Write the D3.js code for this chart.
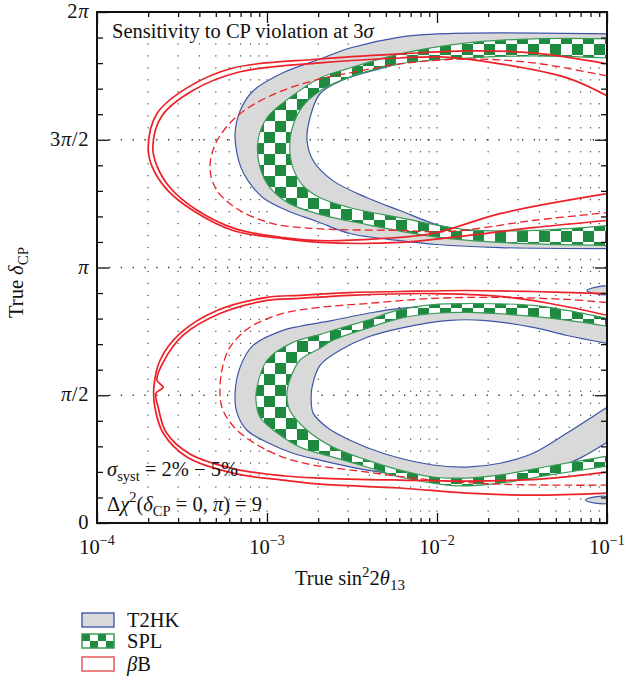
<!DOCTYPE html>
<html>
<head>
<meta charset="utf-8">
<script src="https://cdn.jsdelivr.net/npm/d3@7"></script>
<style>
  body { margin: 0; background: #fff; }
  svg text { font-family: "Liberation Serif", "Times New Roman", serif; font-size: 20.5px; fill: #111; }
</style>
</head>
<body>
<svg id="chart" width="626" height="680"></svg>
<script>
// Contours: each point is [true sin^2(2θ13), true δCP in units of π]

// T2HK (upper lobe, δ between π and 2π)
const t2hkUpperOuter = [[0.1,1.914],[0.0235,1.918],[0.0100,1.914],[0.00605,1.902],[0.00308,1.859],[0.00205,1.816],[0.00124,1.762],[0.000828,1.691],[0.000694,1.613],[0.000649,1.523],[0.000667,1.445],[0.000703,1.391],[0.000773,1.340],[0.000947,1.273],[0.00131,1.223],[0.00197,1.180],[0.00308,1.133],[0.00605,1.105],[0.0100,1.090],[0.0235,1.078],[0.1,1.074]];
const t2hkUpperInner = [[0.1,1.824],[0.0367,1.830],[0.0150,1.824],[0.00693,1.809],[0.00481,1.781],[0.00280,1.734],[0.00205,1.680],[0.00179,1.586],[0.00172,1.496],[0.00187,1.418],[0.00244,1.340],[0.00388,1.273],[0.00605,1.223],[0.0104,1.164],[0.0150,1.145],[0.0367,1.141],[0.1,1.160]];
// T2HK (lower lobe, δ between 0 and π)
const t2hkLowerOuter = [[0.1,0.793],[0.0367,0.844],[0.0150,0.852],[0.00605,0.840],[0.00388,0.820],[0.00244,0.793],[0.00156,0.770],[0.00124,0.754],[0.000828,0.695],[0.000694,0.609],[0.000649,0.508],[0.000667,0.430],[0.000762,0.363],[0.00100,0.316],[0.00142,0.273],[0.00205,0.246],[0.00388,0.207],[0.00947,0.176],[0.0235,0.176],[0.0463,0.207],[0.0694,0.254],[0.1,0.316]];
const t2hkLowerInner = [[0.1,0.703],[0.0582,0.734],[0.0367,0.766],[0.0187,0.793],[0.0119,0.793],[0.00605,0.762],[0.00388,0.727],[0.00269,0.676],[0.00205,0.617],[0.00184,0.531],[0.00182,0.480],[0.00187,0.430],[0.00225,0.375],[0.00308,0.324],[0.00481,0.273],[0.00947,0.227],[0.0150,0.219],[0.0235,0.234],[0.0367,0.273],[0.0582,0.352],[0.1,0.453]];
// small T2HK islands at large θ13
const t2hkIslandTop = [[0.1,0.926],[0.085,0.922],[0.0762,0.910],[0.085,0.898],[0.1,0.895]];
const t2hkIslandBottom = [[0.1,0.102],[0.085,0.102],[0.0748,0.090],[0.085,0.078],[0.1,0.078]];

// SPL
const splUpperOuter = [[0.1,1.895],[0.0367,1.895],[0.0150,1.879],[0.00605,1.836],[0.00308,1.781],[0.00205,1.742],[0.00136,1.664],[0.00100,1.586],[0.000885,1.496],[0.000910,1.391],[0.00104,1.313],[0.00136,1.250],[0.00197,1.211],[0.00388,1.168],[0.00947,1.121],[0.0235,1.098],[0.1,1.086]];
const splUpperInner = [[0.1,1.820],[0.0367,1.828],[0.0150,1.820],[0.00605,1.797],[0.00308,1.746],[0.00205,1.691],[0.00163,1.633],[0.00142,1.555],[0.00136,1.469],[0.00142,1.391],[0.00163,1.320],[0.00205,1.273],[0.00308,1.234],[0.00605,1.195],[0.0150,1.148],[0.0367,1.145],[0.1,1.164]];
const splLowerOuter = [[0.1,0.801],[0.0582,0.832],[0.0367,0.852],[0.0150,0.859],[0.00947,0.855],[0.00582,0.832],[0.00388,0.793],[0.00244,0.754],[0.00205,0.738],[0.00142,0.707],[0.00100,0.637],[0.000873,0.531],[0.000861,0.480],[0.000910,0.414],[0.00115,0.352],[0.00156,0.297],[0.00244,0.258],[0.00388,0.219],[0.00605,0.180],[0.00947,0.156],[0.0136,0.145],[0.0235,0.156],[0.0463,0.188],[0.1,0.223]];
const splLowerInner = [[0.1,0.770],[0.0722,0.785],[0.0367,0.809],[0.0150,0.824],[0.00947,0.820],[0.00605,0.801],[0.00388,0.762],[0.00244,0.715],[0.00205,0.684],[0.00156,0.637],[0.00136,0.559],[0.00131,0.508],[0.00136,0.441],[0.00172,0.363],[0.00244,0.297],[0.00388,0.246],[0.00605,0.207],[0.00947,0.180],[0.0150,0.176],[0.0235,0.188],[0.0463,0.223],[0.1,0.262]];

// βB: two solid contours and one dashed contour per lobe
const betaUpperA = [[0.1,1.797],[0.0367,1.840],[0.0150,1.848],[0.00605,1.836],[0.00205,1.816],[0.000631,1.781],[0.000338,1.703],[0.000225,1.602],[0.000200,1.469],[0.000211,1.395],[0.000258,1.305],[0.000367,1.223],[0.000631,1.145],[0.00124,1.113],[0.00205,1.098],[0.00605,1.098],[0.0150,1.125],[0.0367,1.156],[0.1,1.184]];
const betaUpperB = [[0.1,1.672],[0.0582,1.742],[0.0235,1.797],[0.0104,1.824],[0.00605,1.820],[0.00205,1.801],[0.000694,1.766],[0.000362,1.691],[0.000241,1.594],[0.000213,1.473],[0.000225,1.398],[0.000272,1.309],[0.000382,1.227],[0.000649,1.152],[0.00124,1.117],[0.00205,1.105],[0.00463,1.113],[0.00947,1.133],[0.0235,1.211],[0.1,1.289]];
const betaUpperDashed = [[0.1,1.750],[0.0367,1.801],[0.0150,1.816],[0.00605,1.797],[0.00308,1.762],[0.00205,1.738],[0.00115,1.684],[0.000694,1.602],[0.000508,1.496],[0.000462,1.391],[0.000508,1.301],[0.000694,1.223],[0.00108,1.172],[0.00197,1.152],[0.00605,1.145],[0.0119,1.141],[0.0367,1.184],[0.1,1.215]];
const betaLowerA = [[0.1,0.898],[0.0367,0.906],[0.0150,0.910],[0.00605,0.906],[0.00308,0.902],[0.00156,0.891],[0.00100,0.883],[0.000508,0.832],[0.000308,0.742],[0.000235,0.637],[0.000216,0.531],[0.000219,0.453],[0.000245,0.352],[0.000338,0.258],[0.000631,0.195],[0.00124,0.168],[0.00205,0.152],[0.00605,0.137],[0.0150,0.117],[0.0367,0.109],[0.1,0.117]];
const betaLowerB = [[0.1,0.813],[0.0463,0.859],[0.0235,0.887],[0.00947,0.898],[0.00308,0.891],[0.00156,0.879],[0.00100,0.871],[0.000529,0.820],[0.000320,0.734],[0.000245,0.629],[0.000225,0.559],[0.000245,0.531],[0.000222,0.508],[0.000229,0.453],[0.000255,0.355],[0.000352,0.270],[0.000649,0.211],[0.00128,0.184],[0.00205,0.176],[0.00605,0.168],[0.0150,0.164],[0.0404,0.172],[0.1,0.199]];
const betaLowerDashed = [[0.1,0.863],[0.0582,0.875],[0.0235,0.883],[0.00947,0.879],[0.00388,0.859],[0.00205,0.844],[0.00124,0.820],[0.000794,0.766],[0.000606,0.688],[0.000543,0.598],[0.000529,0.508],[0.000551,0.441],[0.000667,0.363],[0.00100,0.285],[0.00156,0.238],[0.00388,0.199],[0.00947,0.168],[0.0235,0.152],[0.0582,0.148],[0.1,0.148]];

// Axes
const xMajorTicks = [1e-4, 1e-3, 1e-2, 1e-1];
const xTickExponents = ["−4", "−3", "−2", "−1"];
const yMajorTicks = [0, 0.5, 1, 1.5, 2];
const yTickLabels = ["0", "π/2", "π", "3π/2", "2π"];
const yDottedLines = [0.5, 1, 1.5];
const gridRowStep = 3 / 64;   // δ spacing of the scan grid, in units of π
const legendNames = ["T2HK", "SPL", "βB"];

// ---------------------------------------------------------------
const plot = { left: 97, right: 607, top: 12, bottom: 523 };
const C = {
  gray: "#d9d9d9", blue: "#3c55a8", green: "#1e8a40", greenLine: "#3a9a58",
  red: "#ee2028", ink: "#111"
};

const x = d3.scaleLog().domain([1e-4, 1e-1]).range([plot.left, plot.right]);
const y = d3.scaleLinear().domain([0, 2]).range([plot.bottom, plot.top]);

const svg = d3.select("#chart");
const defs = svg.append("defs");
defs.append("clipPath").attr("id", "plotClip").append("rect")
  .attr("x", plot.left).attr("y", plot.top)
  .attr("width", plot.right - plot.left).attr("height", plot.bottom - plot.top);

function checkerPattern(id, cw, ch, ox, oy) {
  const p = defs.append("pattern").attr("id", id).attr("patternUnits", "userSpaceOnUse")
    .attr("x", ox).attr("y", oy).attr("width", 2 * cw).attr("height", 2 * ch);
  p.append("rect").attr("width", 2 * cw).attr("height", 2 * ch).attr("fill", "#fff");
  p.append("rect").attr("width", cw).attr("height", ch).attr("fill", C.green);
  p.append("rect").attr("x", cw).attr("y", ch).attr("width", cw).attr("height", ch).attr("fill", C.green);
}
checkerPattern("checker", 11, 11, 0, 0);
checkerPattern("checkerLegend", 8, 7, 82, 634);

const line = d3.line().x(d => x(d[0])).y(d => y(d[1])).curve(d3.curveCatmullRom.alpha(0.5));
const loop = d3.line().x(d => x(d[0])).y(d => y(d[1])).curve(d3.curveCatmullRomClosed.alpha(0.5));

// scan-grid dots and dotted reference lines
const grid = svg.append("g").attr("clip-path", "url(#plotClip)");
const gridCols = [];
[-4, -3, -2].forEach(e => { for (let k = 1; k <= 9; k++) { const v = k * Math.pow(10, e); if (v > 1e-4) gridCols.push(v); } });
const gridRows = d3.range(1, 41).map(m => m * gridRowStep);
const cells = [];
gridCols.forEach(cx => gridRows.forEach(r => cells.push([cx, r])));
grid.selectAll("rect.dot").data(cells).join("rect").attr("class", "dot")
  .attr("x", d => x(d[0]) - 0.6).attr("y", d => y(d[1]) - 0.6)
  .attr("width", 1.2).attr("height", 1.2).attr("fill", "#444");
grid.selectAll("line.ref").data(yDottedLines).join("line").attr("class", "ref")
  .attr("x1", plot.left + 12).attr("x2", plot.right).attr("y1", d => y(d)).attr("y2", d => y(d))
  .attr("stroke", "#333").attr("stroke-width", 1.3).attr("stroke-dasharray", "1.3,10.5");

const regions = svg.append("g").attr("clip-path", "url(#plotClip)");

function band(outer, inner, fill, stroke) {
  regions.append("path").attr("d", line(outer) + "Z" + line(inner) + "Z")
    .attr("fill", fill).attr("fill-rule", "evenodd").attr("stroke", "none");
  [outer, inner].forEach(c => regions.append("path").attr("d", line(c))
    .attr("fill", "none").attr("stroke", stroke).attr("stroke-width", 1.2));
}
band(t2hkUpperOuter, t2hkUpperInner, C.gray, C.blue);
band(t2hkLowerOuter, t2hkLowerInner, C.gray, C.blue);
[t2hkIslandTop, t2hkIslandBottom].forEach(c => regions.append("path").attr("d", loop(c))
  .attr("fill", C.gray).attr("stroke", C.blue).attr("stroke-width", 1.2));
band(splUpperOuter, splUpperInner, "url(#checker)", C.greenLine);
band(splLowerOuter, splLowerInner, "url(#checker)", C.greenLine);

[betaUpperA, betaUpperB, betaLowerA, betaLowerB].forEach(c => regions.append("path").attr("d", line(c))
  .attr("fill", "none").attr("stroke", C.red).attr("stroke-width", 1.7));
[betaUpperDashed, betaLowerDashed].forEach(c => regions.append("path").attr("d", line(c))
  .attr("fill", "none").attr("stroke", C.red).attr("stroke-width", 1.3).attr("stroke-dasharray", "8,4"));

// ticks
const xMinor = [];
[-4, -3, -2].forEach(e => { for (let k = 2; k <= 9; k++) xMinor.push(k * Math.pow(10, e)); });
const yMinor = d3.range(1, 20).map(i => i / 10).filter(v => Math.abs(v * 2 - Math.round(v * 2)) > 1e-6);

function ticks(axisFn, scale, values, size, transform) {
  const g = svg.append("g").attr("transform", transform)
    .call(axisFn(scale).tickValues(values).tickSize(size).tickFormat(""));
  g.select(".domain").remove();
  g.selectAll(".tick line").attr("stroke", C.ink).attr("stroke-width", 1.3);
}
ticks(d3.axisBottom, x, xMinor, -5, `translate(0,${plot.bottom})`);
ticks(d3.axisBottom, x, xMajorTicks, -10, `translate(0,${plot.bottom})`);
ticks(d3.axisTop, x, xMinor, -5, `translate(0,${plot.top})`);
ticks(d3.axisTop, x, xMajorTicks, -11, `translate(0,${plot.top})`);
ticks(d3.axisLeft, y, yMinor, -6, `translate(${plot.left},0)`);
ticks(d3.axisLeft, y, yMajorTicks, -12, `translate(${plot.left},0)`);
ticks(d3.axisRight, y, yMinor, -6, `translate(${plot.right},0)`);
ticks(d3.axisRight, y, yMajorTicks, -12, `translate(${plot.right},0)`);

svg.append("rect").attr("x", plot.left).attr("y", plot.top)
  .attr("width", plot.right - plot.left).attr("height", plot.bottom - plot.top)
  .attr("fill", "none").attr("stroke", C.ink).attr("stroke-width", 2);

// tick labels
function mathText(sel, s) {
  // Greek letters set in italic, everything else upright
  for (const ch of s) {
    sel.append("tspan").attr("font-style", "αβγδθπσχ".includes(ch) ? "italic" : null).text(ch);
  }
}
svg.selectAll("text.ylab").data(yMajorTicks).join("text").attr("class", "ylab")
  .attr("x", plot.left - 8).attr("y", d => y(d) + 6).attr("text-anchor", "end")
  .attr("font-size", 21.5).attr("letter-spacing", 0.6)
  .each(function (d, i) { mathText(d3.select(this), yTickLabels[i]); });

svg.selectAll("text.xlab").data(xMajorTicks).join("text").attr("class", "xlab")
  .attr("x", d => x(d)).attr("y", plot.bottom + 31).attr("text-anchor", "middle")
  .attr("font-size", 21)
  .each(function (d, i) {
    const t = d3.select(this);
    t.append("tspan").text("10");
    t.append("tspan").attr("font-size", 14).attr("dy", -9).text(xTickExponents[i]);
  });

// axis titles
const xt = svg.append("text").attr("x", 350).attr("y", 585).attr("text-anchor", "middle").attr("font-size", 21.5);
xt.append("tspan").text("True sin");
xt.append("tspan").attr("font-size", 15).attr("dy", -8).text("2");
xt.append("tspan").attr("dy", 8).text("2");
xt.append("tspan").attr("font-style", "italic").text("θ");
xt.append("tspan").attr("font-size", 15).attr("dy", 5).text("13");

const yt = svg.append("text").attr("transform", "translate(23,318) rotate(-90)").attr("font-size", 21.5);
yt.append("tspan").text("True ");
yt.append("tspan").attr("font-style", "italic").text("δ");
yt.append("tspan").attr("font-size", 15).attr("dy", 5).text("CP");

// title and notes
const title = svg.append("text").attr("x", 112).attr("y", 38).attr("font-size", 21);
title.append("tspan").text("Sensitivity to CP violation at 3");
title.append("tspan").attr("font-style", "italic").text("σ");

const n1 = svg.append("text").attr("x", 107).attr("y", 476);
n1.append("tspan").attr("font-style", "italic").text("σ");
n1.append("tspan").attr("font-size", 14.5).attr("dy", 5).text("syst");
n1.append("tspan").attr("dy", -5).text(" = 2% − 5%");

const n2 = svg.append("text").attr("x", 107).attr("y", 511);
n2.append("tspan").text("Δ");
n2.append("tspan").attr("font-style", "italic").text("χ");
n2.append("tspan").attr("font-size", 14.5).attr("dy", -9).text("2");
n2.append("tspan").attr("dy", 9).text("(");
n2.append("tspan").attr("font-style", "italic").text("δ");
n2.append("tspan").attr("font-size", 14.5).attr("dy", 5).text("CP");
n2.append("tspan").attr("dy", -5).text(" = 0, ");
n2.append("tspan").attr("font-style", "italic").text("π");
n2.append("tspan").text(") = 9");

// legend
const legendStyles = [
  { fill: C.gray, stroke: "#4c62ad" },
  { fill: "url(#checkerLegend)", stroke: "#3a9a58" },
  { fill: "#fff", stroke: "#e85a5a" }
];
const legendY = [613, 634, 657];
const lg = svg.append("g");
legendNames.forEach((name, i) => {
  lg.append("rect").attr("x", 82).attr("y", legendY[i]).attr("width", 32).attr("height", 14)
    .attr("fill", legendStyles[i].fill).attr("stroke", legendStyles[i].stroke).attr("stroke-width", 1.5);
  const t = lg.append("text").attr("x", 127).attr("y", legendY[i] + 14).attr("font-size", 21);
  mathText(t, name);
});
</script>
</body>
</html>
